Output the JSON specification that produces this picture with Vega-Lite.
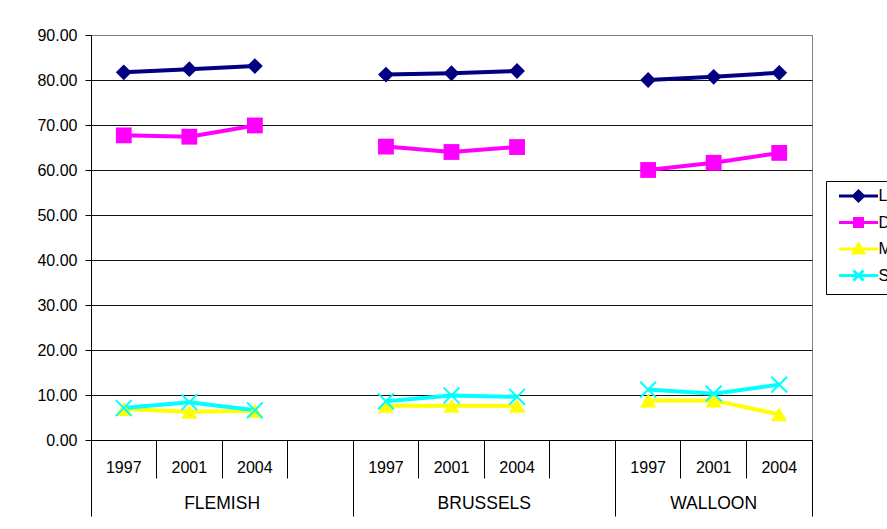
{
  "$schema": "https://vega.github.io/schema/vega-lite/v6.json",
  "width": 721,
  "height": 405,
  "autosize": {"type": "none"},
  "padding": {"left": 91, "top": 35, "right": 75, "bottom": 89},
  "background": "white",
  "config": {
    "font": "Liberation Sans",
    "view": {"stroke": "#808080", "strokeWidth": 1, "fill": "white"},
    "axis": {"labelFont": "Liberation Sans", "labelColor": "black", "domainColor": "black", "tickColor": "black"}
  },
  "data": {
    "values": [
      {"region": "FLEMISH", "year": "1997", "slot": "F1997", "series": "L", "value": 81.7},
      {"region": "FLEMISH", "year": "2001", "slot": "F2001", "series": "L", "value": 82.4},
      {"region": "FLEMISH", "year": "2004", "slot": "F2004", "series": "L", "value": 83.1},
      {"region": "BRUSSELS", "year": "1997", "slot": "B1997", "series": "L", "value": 81.2},
      {"region": "BRUSSELS", "year": "2001", "slot": "B2001", "series": "L", "value": 81.5},
      {"region": "BRUSSELS", "year": "2004", "slot": "B2004", "series": "L", "value": 82.0},
      {"region": "WALLOON", "year": "1997", "slot": "W1997", "series": "L", "value": 80.0},
      {"region": "WALLOON", "year": "2001", "slot": "W2001", "series": "L", "value": 80.7},
      {"region": "WALLOON", "year": "2004", "slot": "W2004", "series": "L", "value": 81.6},
      {"region": "FLEMISH", "year": "1997", "slot": "F1997", "series": "D", "value": 67.7},
      {"region": "FLEMISH", "year": "2001", "slot": "F2001", "series": "D", "value": 67.4},
      {"region": "FLEMISH", "year": "2004", "slot": "F2004", "series": "D", "value": 69.9},
      {"region": "BRUSSELS", "year": "1997", "slot": "B1997", "series": "D", "value": 65.2},
      {"region": "BRUSSELS", "year": "2001", "slot": "B2001", "series": "D", "value": 64.0},
      {"region": "BRUSSELS", "year": "2004", "slot": "B2004", "series": "D", "value": 65.1},
      {"region": "WALLOON", "year": "1997", "slot": "W1997", "series": "D", "value": 60.0},
      {"region": "WALLOON", "year": "2001", "slot": "W2001", "series": "D", "value": 61.6},
      {"region": "WALLOON", "year": "2004", "slot": "W2004", "series": "D", "value": 63.8},
      {"region": "FLEMISH", "year": "1997", "slot": "F1997", "series": "M", "value": 6.9},
      {"region": "FLEMISH", "year": "2001", "slot": "F2001", "series": "M", "value": 6.3},
      {"region": "FLEMISH", "year": "2004", "slot": "F2004", "series": "M", "value": 6.5},
      {"region": "BRUSSELS", "year": "1997", "slot": "B1997", "series": "M", "value": 7.6},
      {"region": "BRUSSELS", "year": "2001", "slot": "B2001", "series": "M", "value": 7.6},
      {"region": "BRUSSELS", "year": "2004", "slot": "B2004", "series": "M", "value": 7.6},
      {"region": "WALLOON", "year": "1997", "slot": "W1997", "series": "M", "value": 8.8},
      {"region": "WALLOON", "year": "2001", "slot": "W2001", "series": "M", "value": 8.8},
      {"region": "WALLOON", "year": "2004", "slot": "W2004", "series": "M", "value": 5.7},
      {"region": "FLEMISH", "year": "1997", "slot": "F1997", "series": "S", "value": 7.1},
      {"region": "FLEMISH", "year": "2001", "slot": "F2001", "series": "S", "value": 8.4},
      {"region": "FLEMISH", "year": "2004", "slot": "F2004", "series": "S", "value": 6.6},
      {"region": "BRUSSELS", "year": "1997", "slot": "B1997", "series": "S", "value": 8.6},
      {"region": "BRUSSELS", "year": "2001", "slot": "B2001", "series": "S", "value": 9.9},
      {"region": "BRUSSELS", "year": "2004", "slot": "B2004", "series": "S", "value": 9.6},
      {"region": "WALLOON", "year": "1997", "slot": "W1997", "series": "S", "value": 11.2},
      {"region": "WALLOON", "year": "2001", "slot": "W2001", "series": "S", "value": 10.3},
      {"region": "WALLOON", "year": "2004", "slot": "W2004", "series": "S", "value": 12.3}
    ]
  },
  "layer": [
    {
      "mark": {"type": "point", "filled": false, "size": 100, "strokeWidth": 3, "opacity": 0},
      "encoding": {
        "x": {
          "field": "slot", "type": "nominal",
          "scale": {"type": "band", "domain": ["F1997","F2001","F2004","Fgap","B1997","B2001","B2004","Bgap","W1997","W2001","W2004"], "paddingInner": 0, "paddingOuter": 0},
          "axis": null
        },
        "y": {"field": "value", "type": "quantitative", "scale": {"domain": [0, 90], "nice": false}},
        "color": {
          "field": "series", "type": "nominal",
          "scale": {"domain": ["L","D","M","S"], "range": ["#000080","#FF00FF","#FFFF00","#00FFFF"]},
          "legend": {
            "title": null, "orient": "none", "legendX": 735, "legendY": 146,
            "fillColor": "white", "strokeColor": "black", "padding": 7,
            "symbolSize": 100, "symbolOffset": 17.5, "labelOffset": 12, "rowPadding": 5.5,
            "labelFontSize": 16, "labelFont": "Liberation Sans", "labelColor": "black",
            "symbolStrokeWidth": 3, "symbolOpacity": 1
          }
        },
        "shape": {
          "field": "series", "type": "nominal",
          "scale": {"domain": ["L","D","M","S"], "range": ["M-3.9,0L3.9,0M0,-1L1,0L0,1L-1,0ZM0,-0.4L0.4,0L0,0.4L-0.4,0Z", "M-3.9,0L3.9,0M-0.8,-0.8L0.8,-0.8L0.8,0.8L-0.8,0.8ZM-0.3,-0.3L0.3,-0.3L0.3,0.3L-0.3,0.3Z", "M-3.9,0L3.9,0M0,-1L1,0.8L-1,0.8ZM0,-0.3L0.35,0.45L-0.35,0.45Z", "M-3.9,0L3.9,0M-1,-1L1,1M-1,1L1,-1"]},
          "legend": {
            "title": null, "orient": "none", "legendX": 735, "legendY": 146,
            "fillColor": "white", "strokeColor": "black", "padding": 7,
            "symbolSize": 100, "symbolOffset": 17.5, "labelOffset": 12, "rowPadding": 5.5,
            "labelFontSize": 16, "labelFont": "Liberation Sans", "labelColor": "black",
            "symbolStrokeWidth": 3, "symbolOpacity": 1
          }
        }
      }
    },
    {
      "mark": {"type": "line", "strokeWidth": 4},
      "encoding": {
        "x": {
          "field": "slot", "type": "nominal",
          "scale": {"type": "band", "domain": ["F1997","F2001","F2004","Fgap","B1997","B2001","B2004","Bgap","W1997","W2001","W2004"], "paddingInner": 0, "paddingOuter": 0},
          "axis": {
            "orient": "bottom",
            "bandPosition": 1,
            "title": null,
            "domain": true, "domainColor": "black", "domainWidth": 1,
            "ticks": true, "tickColor": "black", "tickWidth": 1,
            "tickSize": {"condition": {"test": "indexof(['Fgap','Bgap','W2004'], datum.value) >= 0", "value": 76}, "value": 38},
            "labelPadding": {"condition": {"test": "datum.value === 'W2004'", "value": -57}, "value": -19},
            "labelExpr": "indexof(datum.value, 'gap') >= 0 ? '' : slice(datum.value, 1)",
            "labelFontSize": 16, "labelAngle": 0, "labelBaseline": "top", "labelAlign": "center",
            "labelOverlap": false, "labelFlush": false,
            "grid": false
          }
        },
        "y": {
          "field": "value", "type": "quantitative",
          "scale": {"domain": [0, 90], "nice": false},
          "axis": {
            "title": null, "values": [0,10,20,30,40,50,60,70,80,90], "format": ".2f",
            "grid": true,
            "gridColor": {"condition": {"test": "datum.value === 90", "value": "#808080"}, "value": "#111111"},
            "gridWidth": 1, "tickSize": 6, "labelPadding": 8, "labelFontSize": 16,
            "domainColor": "black", "tickColor": "black"
          }
        },
        "stroke": {
          "field": "series", "type": "nominal",
          "scale": {"domain": ["L","D","M","S"], "range": ["#000080","#FF00FF","#FFFF00","#00FFFF"]},
          "legend": null
        },
        "detail": {"field": "region", "type": "nominal"}
      }
    },
    {
      "transform": [{"filter": "datum.series === 'L'"}],
      "mark": {"type": "point", "shape": "diamond", "filled": true, "size": 250, "color": "#000080", "opacity": 1},
      "encoding": {
        "x": {
          "field": "slot", "type": "nominal",
          "scale": {"type": "band", "domain": ["F1997","F2001","F2004","Fgap","B1997","B2001","B2004","Bgap","W1997","W2001","W2004"], "paddingInner": 0, "paddingOuter": 0},
          "axis": {
            "orient": "bottom",
            "bandPosition": 0,
            "values": ["F1997","F2004","B2004","W2001"],
            "title": null, "domain": false, "grid": false,
            "ticks": true, "tickSize": 76, "tickColor": "black", "tickWidth": 1,
            "tickOpacity": {"condition": {"test": "datum.value === 'F1997'", "value": 1}, "value": 0},
            "labelExpr": "datum.value === 'F2004' ? 'FLEMISH' : datum.value === 'B2004' ? 'BRUSSELS' : datum.value === 'W2001' ? 'WALLOON' : ''",
            "labelOffset": {"condition": {"test": "datum.value === 'W2001'", "value": 0}, "value": -32.77},
            "labelPadding": -22, "labelFontSize": 17.5, "labelBaseline": "top", "labelAlign": "center",
            "labelAngle": 0, "labelOverlap": false, "labelFlush": false
          }
        },
        "y": {"field": "value", "type": "quantitative", "scale": {"domain": [0, 90], "nice": false}}
      }
    },
    {
      "transform": [{"filter": "datum.series === 'D'"}],
      "mark": {"type": "point", "shape": "square", "filled": true, "size": 250, "color": "#FF00FF", "opacity": 1},
      "encoding": {
        "x": {
          "field": "slot", "type": "nominal",
          "scale": {"type": "band", "domain": ["F1997","F2001","F2004","Fgap","B1997","B2001","B2004","Bgap","W1997","W2001","W2004"], "paddingInner": 0, "paddingOuter": 0},
          "axis": null
        },
        "y": {"field": "value", "type": "quantitative", "scale": {"domain": [0, 90], "nice": false}}
      }
    },
    {
      "transform": [{"filter": "datum.series === 'M'"}],
      "mark": {"type": "point", "shape": "triangle-up", "filled": true, "size": 260, "color": "#FFFF00", "opacity": 1},
      "encoding": {
        "x": {
          "field": "slot", "type": "nominal",
          "scale": {"type": "band", "domain": ["F1997","F2001","F2004","Fgap","B1997","B2001","B2004","Bgap","W1997","W2001","W2004"], "paddingInner": 0, "paddingOuter": 0},
          "axis": null
        },
        "y": {"field": "value", "type": "quantitative", "scale": {"domain": [0, 90], "nice": false}}
      }
    },
    {
      "transform": [{"filter": "datum.series === 'S'"}],
      "mark": {"type": "point", "shape": "M-1,-1L1,1M-1,1L1,-1", "filled": false, "size": 250, "stroke": "#00FFFF", "strokeWidth": 2, "opacity": 1},
      "encoding": {
        "x": {
          "field": "slot", "type": "nominal",
          "scale": {"type": "band", "domain": ["F1997","F2001","F2004","Fgap","B1997","B2001","B2004","Bgap","W1997","W2001","W2004"], "paddingInner": 0, "paddingOuter": 0},
          "axis": null
        },
        "y": {"field": "value", "type": "quantitative", "scale": {"domain": [0, 90], "nice": false}}
      }
    }
  ],
  "resolve": {"axis": {"x": "independent"}}
}
